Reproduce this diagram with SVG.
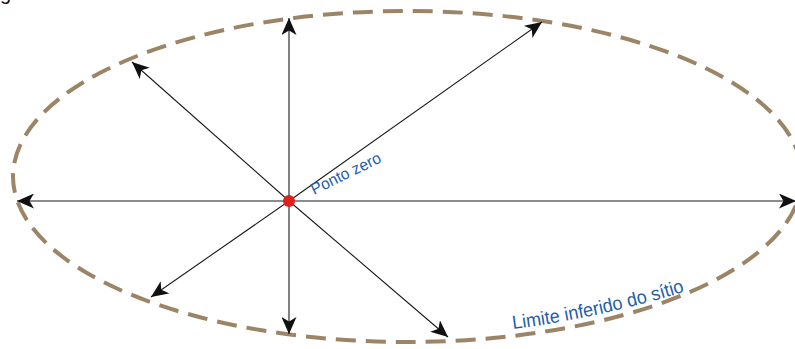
<svg xmlns="http://www.w3.org/2000/svg" width="795" height="349" viewBox="0 0 795 349">
<style>
.ray{stroke:#1a1a1a;stroke-width:1.1;fill:none;marker-end:url(#ah)}
.lbl{font-family:"Liberation Sans",Arial,sans-serif;fill:#1f5ea8}
</style>
<defs>
<marker id="ah" markerUnits="userSpaceOnUse" markerWidth="19" markerHeight="15" refX="17" refY="7.5" orient="auto">
<path d="M0,0 L17,7.5 L0,15 L4.5,7.5 z" fill="#111"/>
</marker>
</defs>
<rect width="795" height="349" fill="#fff"/>
<text x="0" y="0" font-family="Liberation Sans, Arial, sans-serif" font-size="20" fill="#111">g</text>
<g id="boundary">
<ellipse cx="407.5" cy="176.5" rx="394.5" ry="165.5" fill="none" stroke="#9c8566" stroke-width="4" stroke-dasharray="20 10"/>
</g>
<g id="connectors">
<line class="ray" x1="289" y1="201" x2="17" y2="201"/>
<line class="ray" x1="289" y1="201" x2="796" y2="201"/>
<line class="ray" x1="289" y1="201" x2="289" y2="18"/>
<line class="ray" x1="289" y1="201" x2="289" y2="334"/>
<line class="ray" x1="289" y1="201" x2="542" y2="22"/>
<line class="ray" x1="289" y1="201" x2="132" y2="62"/>
<line class="ray" x1="289" y1="201" x2="151" y2="297"/>
<line class="ray" x1="289" y1="201" x2="448" y2="337"/>
</g>
<g id="zero">
<circle cx="289" cy="201" r="6" fill="#e0201c"/>
<text class="lbl" x="314" y="195" font-size="16" textLength="76" lengthAdjust="spacingAndGlyphs" transform="rotate(-26 314 195)">Ponto zero</text>
</g>
<g id="limit-label">
<path id="lp" d="M513,329 Q600,318 690,290" fill="none"/>
<text class="lbl" font-size="19"><textPath href="#lp" textLength="176" lengthAdjust="spacingAndGlyphs">Limite inferido do sítio</textPath></text>
</g>
</svg>
